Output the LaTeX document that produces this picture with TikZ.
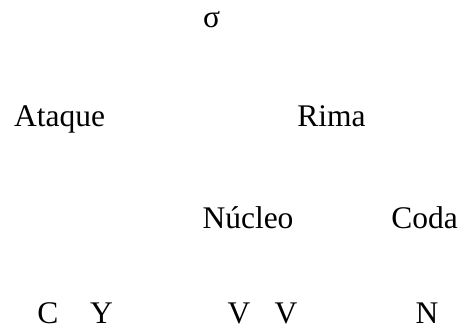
\documentclass[tikz,border=0pt]{standalone}
\usepackage{fontspec}
\setmainfont{Liberation Serif}
\begin{document}
\begin{tikzpicture}[x=1pt,y=1pt,
  lbl/.style={anchor=base,inner sep=0pt,font=\fontsize{31.5}{38}\selectfont}]
\useasboundingbox (0,0) rectangle (462,331);
\node[lbl] (sigma)  at (211.5,303) {σ};
\node[lbl] (ataque) at (59.5,204.3) {Ataque};
\node[lbl] (rima)   at (331.5,204.3) {Rima};
\node[lbl] (nucleo) at (248,102) {Núcleo};
\node[lbl] (coda)   at (424.5,102) {Coda};
\node[lbl] (c)      at (48,7) {C};
\node[lbl] (y)      at (101.5,7) {Y};
\node[lbl] (v1)     at (239,7) {V};
\node[lbl] (v2)     at (286,7) {V};
\node[lbl] (n)      at (427,7) {N};
\end{tikzpicture}
\end{document}
